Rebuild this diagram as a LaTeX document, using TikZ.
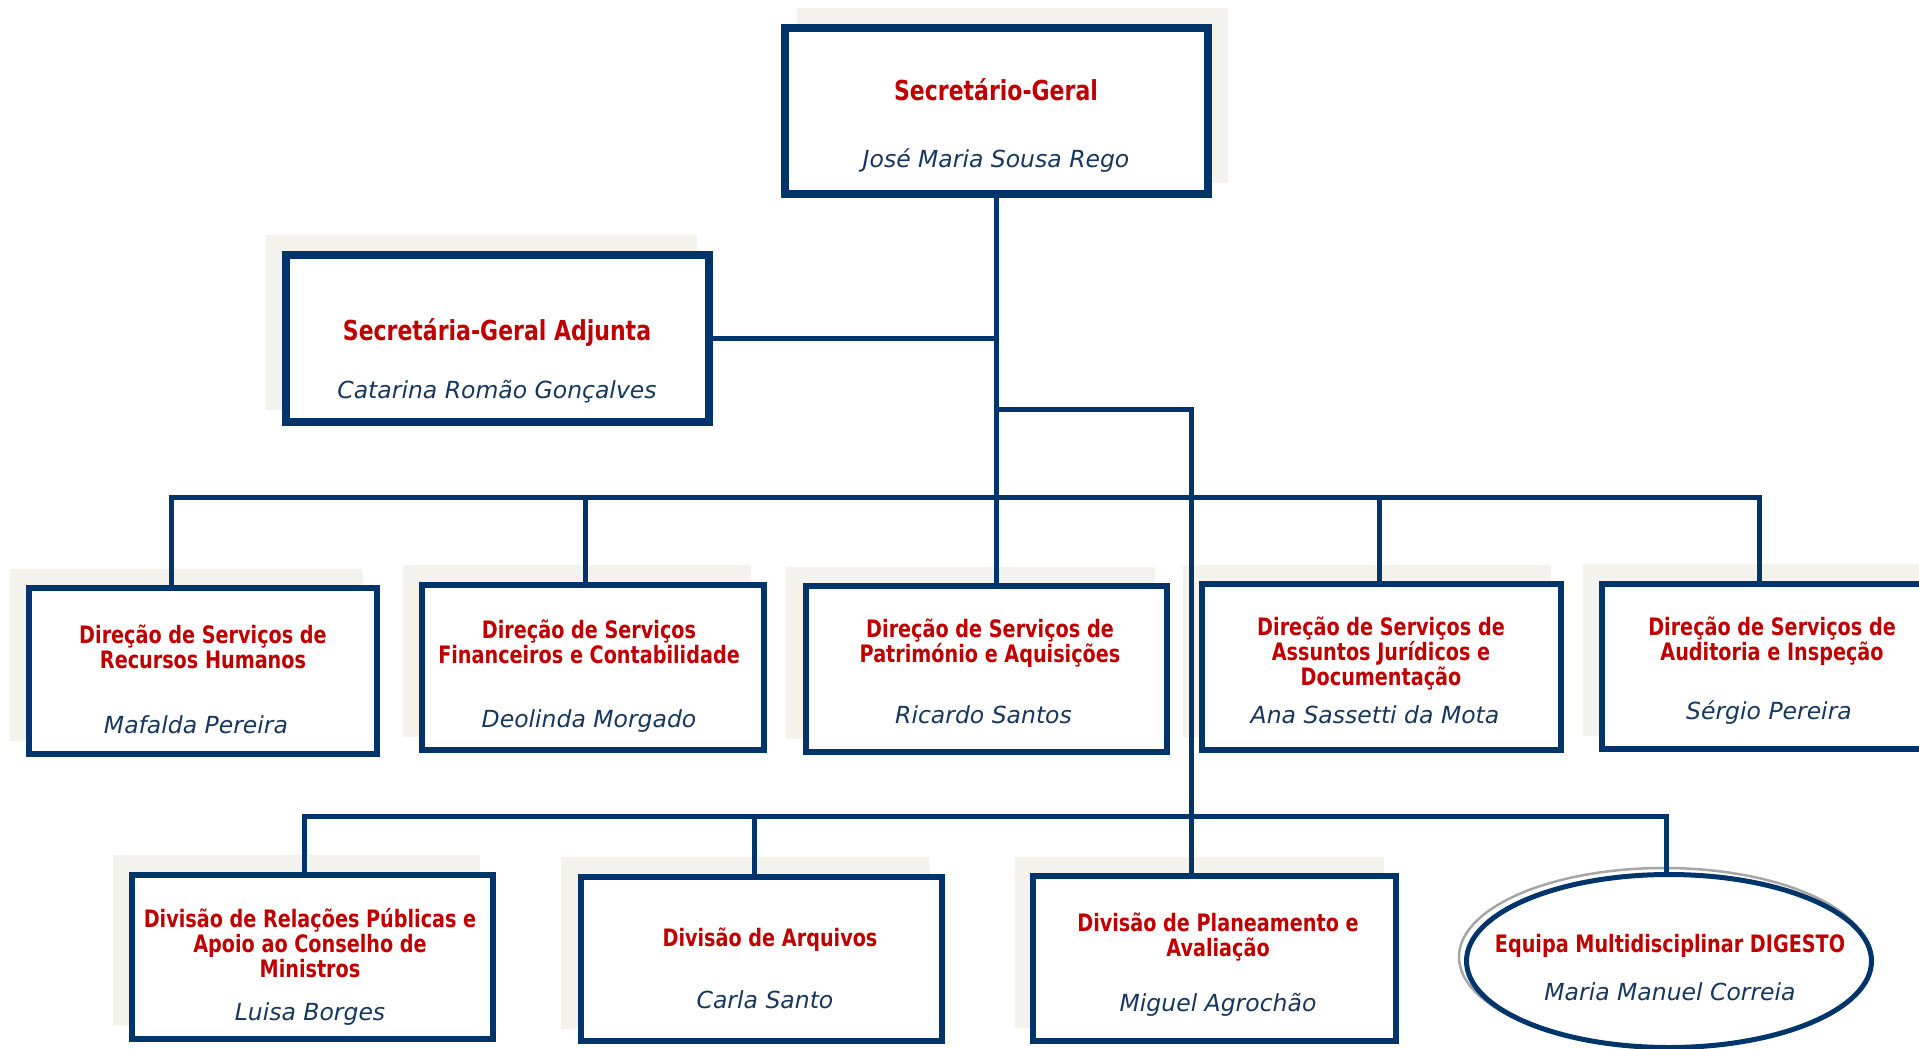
\documentclass[tikz,border=0pt]{standalone}
\usepackage{fontspec}
\usetikzlibrary{shapes.geometric}
\setmainfont{DejaVu Sans}
\newfontfamily\tfont[FakeStretch=0.8]{DejaVu Sans}
\definecolor{nav}{HTML}{00356B}
\definecolor{tred}{HTML}{C00000}
\definecolor{nblue}{HTML}{17375E}
\definecolor{shd}{HTML}{F3F2EC}
\tikzset{
  orgbox/.style={draw=nav,fill=white,line width=6pt,inner sep=0pt,outer sep=0pt},
  conn/.style={draw=nav,line width=5pt},
  shadowbox/.style={fill=shd},
  ttlA/.style={text=tred,font=\tfont\bfseries\fontsize{27.5}{30}\selectfont,align=center,anchor=base,inner sep=0pt},
  ttlB/.style={text=tred,font=\tfont\bfseries\fontsize{24}{25}\selectfont,align=center,anchor=base,inner sep=0pt},
  nm/.style={text=nblue,font=\itshape\fontsize{23.5}{27}\selectfont,anchor=base,inner sep=0pt}
}
\begin{document}
\begin{tikzpicture}[x=1pt,y=-1pt]
\useasboundingbox (0,0) rectangle (1919,1049);
\clip (0,0) rectangle (1919,1049);
% shadows
\fill[shadowbox] (797,8) rectangle (1228,183);
\fill[shadowbox] (266,235) rectangle (697,410);
\fill[shadowbox] (10,569) rectangle (363,741);
\fill[shadowbox] (403,565) rectangle (751,737);
\fill[shadowbox] (786,567) rectangle (1155,739);
\fill[shadowbox] (1183,565) rectangle (1551,737);
\fill[shadowbox] (1583,564) rectangle (1930,736);
\fill[shadowbox] (113,855) rectangle (480,1026);
\fill[shadowbox] (561,857) rectangle (930,1029);
\fill[shadowbox] (1015,857) rectangle (1384,1028);
% boxes
\node[orgbox,line width=8pt,minimum width=423pt,minimum height=166pt] (sg) at (996.5,111) {};
\node[orgbox,line width=8pt,minimum width=423pt,minimum height=167pt] (sga) at (497.5,338.5) {};
\node[orgbox,minimum width=348.5pt,minimum height=166pt] (rh) at (203,671) {};
\node[orgbox,minimum width=342pt,minimum height=165pt] (fin) at (593,667.5) {};
\node[orgbox,minimum width=361pt,minimum height=166pt] (pat) at (986.5,669) {};
\node[orgbox,minimum width=359pt,minimum height=166pt] (jur) at (1381.5,667) {};
\node[orgbox,minimum width=340pt,minimum height=165pt] (aud) at (1772,666.5) {};
\node[orgbox,minimum width=361pt,minimum height=164pt] (rp) at (312.5,957) {};
\node[orgbox,minimum width=361pt,minimum height=164pt] (arq) at (761.5,959) {};
\node[orgbox,minimum width=363pt,minimum height=165pt] (plan) at (1214.5,958.5) {};
\draw[gray!70,line width=2.5pt] (1664,957) ellipse [x radius=205pt,y radius=89pt];
\node[ellipse,draw=nav,fill=white,line width=5pt,inner sep=0pt,outer sep=0pt,minimum width=405pt,minimum height=173pt] (dig) at (1669,961) {};
% connectors
\coordinate (kA) at (997,409);
\coordinate (kB) at (1191,409);
\coordinate (bL) at (171,497);
\coordinate (bR) at (1759,497);
\coordinate (dFin) at (585,497);
\coordinate (dJur) at (1379,497);
\coordinate (cL) at (304,816);
\coordinate (cR) at (1666,816);
\coordinate (dArq) at (754,816);
\draw[conn] (sg.south) -- (sg.south |- pat.north);
\draw[conn] (sga.east) -- (sga.east -| sg.south);
\draw[conn] (kA) -- (kB) -- (kB |- plan.north);
\draw[conn] (bL |- rh.north) -- (bL) -- (bR) -- (bR |- aud.north);
\draw[conn] (dFin) -- (dFin |- fin.north);
\draw[conn] (dJur) -- (dJur |- jur.north);
\draw[conn] (cL |- rp.north) -- (cL) -- (cR) -- (cR |- dig.north);
\draw[conn] (dArq) -- (dArq |- arq.north);
% texts (anchor = baseline of the last line)
\node[ttlA] (sgT) at (996,100) {Secretário-Geral};
\node[nm] (sgN) at (996,167) {José Maria Sousa Rego};
\node[ttlA] (sgaT) at (497,340) {Secretária-Geral Adjunta};
\node[nm] (sgaN) at (497,398) {Catarina Romão Gonçalves};
\node[ttlB] (rhT) at (203,668) {Direção de Serviços de\\Recursos Humanos};
\node[nm] (rhN) at (196,733) {Mafalda Pereira};
\node[ttlB] (finT) at (589,663) {Direção de Serviços\\Financeiros e Contabilidade};
\node[nm] (finN) at (589,727) {Deolinda Morgado};
\node[ttlB] (patT) at (990,662) {Direção de Serviços de\\Património e Aquisições};
\node[nm] (patN) at (983.5,723) {Ricardo Santos};
\node[ttlB] (jurT) at (1381,685) {Direção de Serviços de\\Assuntos Jurídicos e\\Documentação};
\node[nm] (jurN) at (1375,723) {Ana Sassetti da Mota};
\node[ttlB] (audT) at (1772,660) {Direção de Serviços de\\Auditoria e Inspeção};
\node[nm] (audN) at (1769,719) {Sérgio Pereira};
\node[ttlB] (rpT) at (310,977) {Divisão de Relações Públicas e\\Apoio ao Conselho de\\Ministros};
\node[nm] (rpN) at (310,1020) {Luisa Borges};
\node[ttlB] (arqT) at (770,946) {Divisão de Arquivos};
\node[nm] (arqN) at (765,1008) {Carla Santo};
\node[ttlB] (planT) at (1218,956) {Divisão de Planeamento e\\Avaliação};
\node[nm] (planN) at (1218,1011) {Miguel Agrochão};
\node[ttlB] (digT) at (1670,952) {Equipa Multidisciplinar DIGESTO};
\node[nm] (digN) at (1670,1000) {Maria Manuel Correia};
\end{tikzpicture}
\end{document}
